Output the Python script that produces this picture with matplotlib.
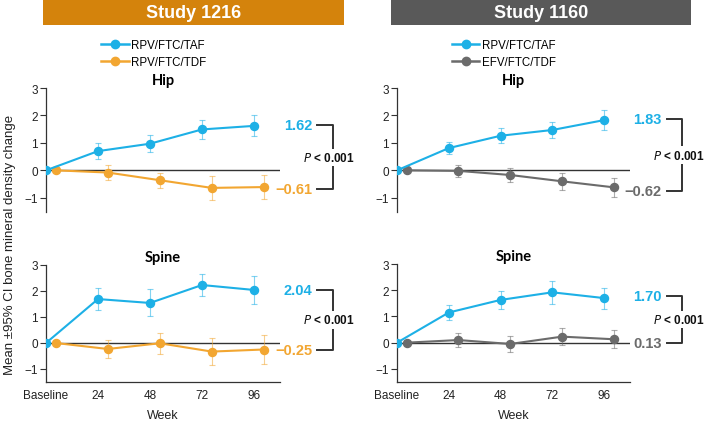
import matplotlib.pyplot as plt
from matplotlib.patches import Rectangle
from matplotlib.transforms import blended_transform_factory

plt.rcParams['font.family'] = ['Liberation Sans', 'DejaVu Sans']

weeks = [0, 24, 48, 72, 96]
week_labels = ['Baseline', '24', '48', '72', '96']
dodge = 4.5  # comparator arm is drawn slightly to the right

# Study 1216: RPV/FTC/TAF vs RPV/FTC/TDF
s1216_hip_taf = [0, 0.70, 0.97, 1.49, 1.62]
s1216_hip_taf_ci = [0, 0.30, 0.31, 0.36, 0.38]
s1216_hip_tdf = [0, -0.08, -0.36, -0.64, -0.61]
s1216_hip_tdf_ci = [0, 0.26, 0.28, 0.45, 0.45]
s1216_spine_taf = [0, 1.69, 1.54, 2.23, 2.04]
s1216_spine_taf_ci = [0, 0.41, 0.52, 0.42, 0.55]
s1216_spine_tdf = [0, -0.23, -0.01, -0.33, -0.25]
s1216_spine_tdf_ci = [0, 0.36, 0.40, 0.51, 0.57]

# Study 1160: RPV/FTC/TAF vs EFV/FTC/TDF
s1160_hip_taf = [0, 0.81, 1.26, 1.47, 1.83]
s1160_hip_taf_ci = [0, 0.23, 0.27, 0.30, 0.36]
s1160_hip_efv = [0, -0.02, -0.17, -0.40, -0.62]
s1160_hip_efv_ci = [0, 0.21, 0.25, 0.30, 0.35]
s1160_spine_taf = [0, 1.15, 1.63, 1.92, 1.70]
s1160_spine_taf_ci = [0, 0.30, 0.35, 0.43, 0.40]
s1160_spine_efv = [0, 0.10, -0.05, 0.23, 0.13]
s1160_spine_efv_ci = [0, 0.28, 0.31, 0.33, 0.35]

blue = '#1DB0E6'
orange = '#F2A631'
gray = '#6B6B6B'
dark = '#333333'

W, H = 709, 431
fig = plt.figure(figsize=(W / 100, H / 100), dpi=100)


def px_axes(x0, x1, ytop, ybot):
    return fig.add_axes([x0 / W, 1 - ybot / H, (x1 - x0) / W, (ybot - ytop) / H])


def draw_series(ax, x, y, ci, col, z):
    _, caps, bars = ax.errorbar(x, y, yerr=ci, color=col, lw=1.5, marker='o', ms=5.8,
                                ecolor=col, elinewidth=0.8, capsize=2.2, capthick=0.8, zorder=z)
    for a in list(caps) + list(bars):
        a.set_alpha(0.55)


def draw_panel(ax, title, a, a_ci, b, b_ci, b_color, top_lab, bot_lab, lab_y, bottom):
    ax.set_xlim(0, 108)
    ax.set_ylim(-1.5, 3)
    ax.axhline(0, color=dark, lw=1, zorder=1)
    draw_series(ax, [w + dodge for w in weeks], b, b_ci, b_color, 3)
    draw_series(ax, weeks, a, a_ci, blue, 4)
    ax.set_yticks([-1, 0, 1, 2, 3])
    ax.tick_params(axis='y', length=4, width=0.8, color=dark, pad=2, labelsize=8.5, labelcolor='#222222')
    for s in ['top', 'right']:
        ax.spines[s].set_visible(False)
    ax.spines['left'].set_color(dark)
    ax.spines['left'].set_linewidth(0.9)
    if bottom:
        ax.spines['bottom'].set_color(dark)
        ax.spines['bottom'].set_linewidth(0.9)
        ax.set_xticks(weeks)
        ax.set_xticklabels(week_labels)
        ax.tick_params(axis='x', length=0, pad=5, labelsize=8.5, labelcolor='#222222')
        ax.set_xlabel('Week', fontsize=9, labelpad=6, color='#222222')
    else:
        ax.spines['bottom'].set_visible(False)
        ax.set_xticks([])
    ax.set_title(title, fontsize=10.5, fontweight='bold', family=['Lato', 'DejaVu Sans'], pad=3)

    tr = blended_transform_factory(ax.transAxes, ax.transData)
    y_hi, y_lo = lab_y
    ax.text(1.137, y_hi, top_lab, transform=tr, ha='right', va='center',
            color=blue, fontsize=10.5, fontweight='bold')
    ax.text(1.137, y_lo, bot_lab, transform=tr, ha='right', va='center',
            color=b_color, fontsize=10.5, fontweight='bold')
    x0, x1 = 1.16, 1.225
    ax.plot([x0, x1, x1, x0], [y_hi, y_hi, y_lo, y_lo], transform=tr,
            color=dark, lw=1.4, clip_on=False)
    ax.text(1.21, (y_hi + y_lo) / 2, r'$\bf\it{P}$ < 0.001', transform=tr, ha='center',
            va='center', fontsize=8.5, fontweight='bold', color='#111111',
            bbox=dict(facecolor='white', edgecolor='none', pad=1.5))


# Study 1216
ax1 = px_axes(46, 280, 89, 212.5)
draw_panel(ax1, 'Hip', s1216_hip_taf, s1216_hip_taf_ci, s1216_hip_tdf, s1216_hip_tdf_ci,
           orange, '1.62', '\u22120.61', (1.64, -0.69), False)
ax2 = px_axes(46, 280, 266, 383)
draw_panel(ax2, 'Spine', s1216_spine_taf, s1216_spine_taf_ci, s1216_spine_tdf, s1216_spine_tdf_ci,
           orange, '2.04', '\u22120.25', (2.04, -0.27), True)

# Study 1160
ax3 = px_axes(397, 630, 89, 212.5)
draw_panel(ax3, 'Hip', s1160_hip_taf, s1160_hip_taf_ci, s1160_hip_efv, s1160_hip_efv_ci,
           gray, '1.83', '\u22120.62', (1.86, -0.75), False)
ax4 = px_axes(397, 630, 265, 383)
draw_panel(ax4, 'Spine', s1160_spine_taf, s1160_spine_taf_ci, s1160_spine_efv, s1160_spine_efv_ci,
           gray, '1.70', '0.13', (1.78, 0.0), True)

# legends
for ax, other, col in [(ax1, 'RPV/FTC/TDF', orange), (ax3, 'EFV/FTC/TDF', gray)]:
    handles = [plt.Line2D([], [], color=blue, lw=1.8, marker='o', ms=6),
               plt.Line2D([], [], color=col, lw=1.8, marker='o', ms=6)]
    ax.legend(handles, ['RPV/FTC/TAF', other], loc='upper left', bbox_to_anchor=(0.235, 1.40),
              frameon=False, handlelength=2.4, handletextpad=0.2,
              labelspacing=0.45, borderpad=0, borderaxespad=0,
              prop={'family': 'Liberation Sans', 'size': 8.3})

# study headers
for x0, x1, col, txt in [(43, 344, '#D4830C', 'Study 1216'), (391, 691, '#595959', 'Study 1160')]:
    fig.patches.append(Rectangle((x0 / W, 1 - 26 / H), (x1 - x0) / W, 26 / H,
                                 transform=fig.transFigure, facecolor=col, edgecolor='none'))
    fig.text((x0 + x1) / 2 / W, 1 - 13 / H, txt, ha='center', va='center',
             color='white', fontsize=13, fontweight='bold')

fig.text(10 / W, 1 - 245 / H, 'Mean \u00b195% CI bone mineral density change', rotation=90,
         ha='center', va='center', fontsize=9.5, color='#222222')

fig.savefig('out.png', dpi=100)
